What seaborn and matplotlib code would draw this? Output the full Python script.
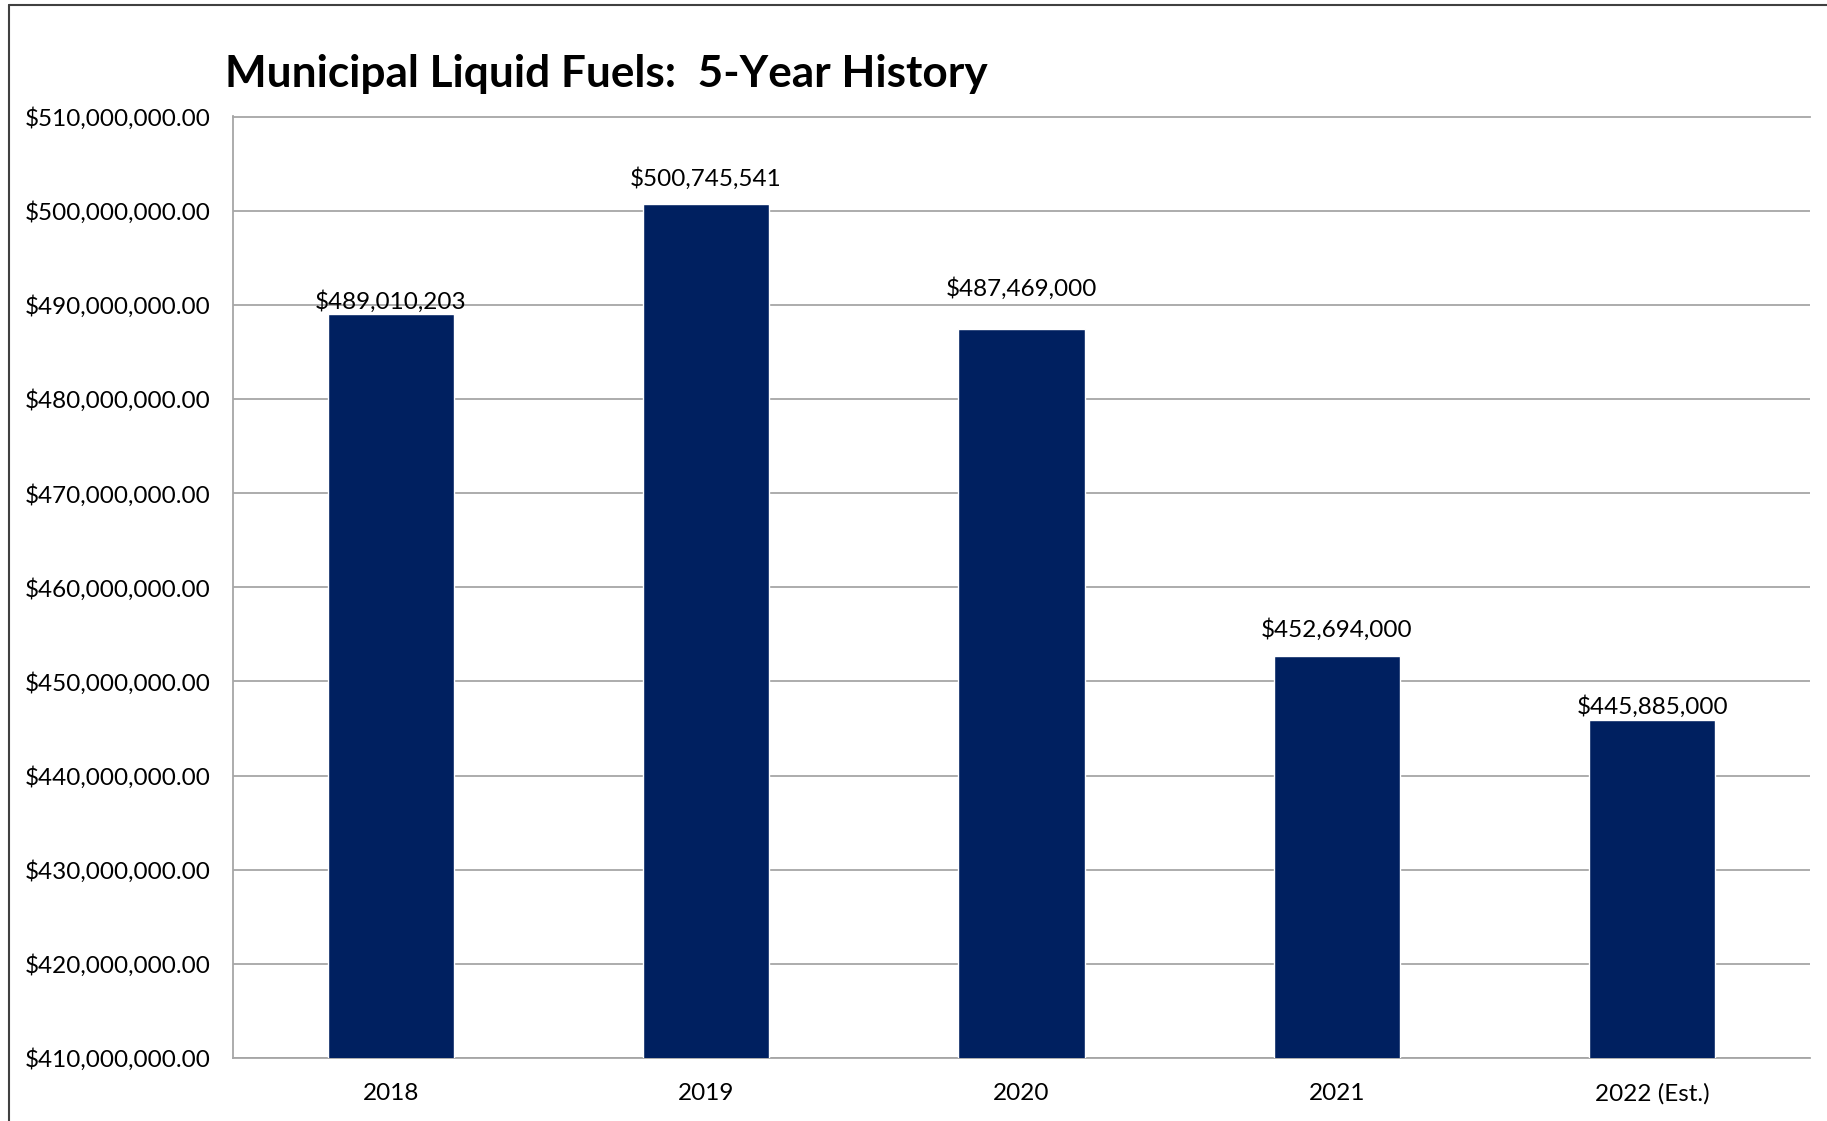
import matplotlib
matplotlib.use("Agg")
import matplotlib.pyplot as plt
import seaborn as sns
import pandas as pd
from matplotlib.lines import Line2D
from matplotlib.ticker import FuncFormatter, MultipleLocator

years = ["2018", "2019", "2020", "2021", "2022 (Est.)"]
values = [489010203, 500745541, 487469000, 452694000, 445885000]
title = "Municipal Liquid Fuels:  5-Year History"

df = pd.DataFrame({"year": years, "value": values})

sns.set_theme(style="white")
plt.rcParams['font.family'] = ['Lato', 'DejaVu Sans']

W, H = 1827, 1121
fig = plt.figure(figsize=(W / 100, H / 100), dpi=100)
ax = fig.add_axes([233 / W, 1 - 1058 / H, (1810 - 233) / W, (1058 - 116.5) / H])

sns.barplot(data=df, x="year", y="value", color="#002060", width=0.4,
            saturation=1, ax=ax, zorder=3)

ax.set_ylim(410e6, 510e6)
ax.set_xlim(-0.5, 4.5)
ax.yaxis.set_major_locator(MultipleLocator(10e6))
ax.yaxis.set_major_formatter(FuncFormatter(lambda v, p: f"${v:,.2f}"))
ax.grid(axis="y", color="#a6a6a6", linewidth=1.3, zorder=0)
ax.set_axisbelow(True)
for s in ["right"]:
    ax.spines[s].set_visible(False)
for s in ["left", "bottom", "top"]:
    ax.spines[s].set_color("#a6a6a6")
    ax.spines[s].set_linewidth(1.3)
ax.set_xlabel("")
ax.set_ylabel("")
fs = 17.5
ax.tick_params(axis="y", length=0, pad=16, labelsize=fs, labelcolor="black")
ax.tick_params(axis="x", length=0, pad=18, labelsize=fs, labelcolor="black")

label_offsets = [1.2, 10, 20.5, 11, 1.8]
for i, (v, off) in enumerate(zip(values, label_offsets)):
    ax.annotate(f"${v:,.0f}", xy=(i, v), xytext=(0, off), textcoords="offset points",
                ha="center", va="bottom", fontsize=fs, color="black")

fig.text(225 / W, 1 - 73.5 / H, title, fontsize=31.8, fontweight="bold",
         ha="left", va="center", color="black")

fig.add_artist(Line2D([9 / W, 1], [1 - 5 / H, 1 - 5 / H], color="#404040", linewidth=1.5))
fig.add_artist(Line2D([9 / W, 9 / W], [0, 1 - 5 / H], color="#404040", linewidth=1.5))

fig.savefig("out.png", dpi=100, facecolor="white")
